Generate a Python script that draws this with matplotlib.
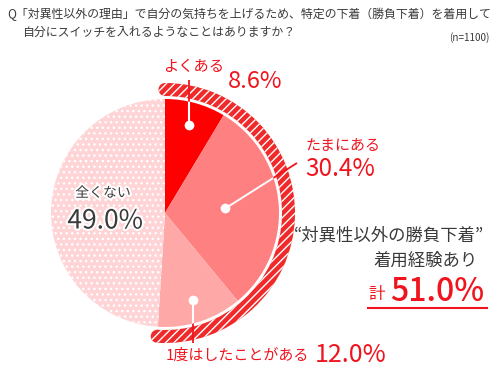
import numpy as np
import matplotlib
matplotlib.use("Agg")
import matplotlib.pyplot as plt
import matplotlib.patheffects as pe
from matplotlib.patches import Wedge, Circle

plt.rcParams['font.family'] = ['Noto Sans CJK JP', 'DejaVu Sans']
plt.rcParams['hatch.linewidth'] = 1.0

# ------------------------------------------------------------------ data
labels = ["よくある", "たまにある", "1度はしたことがある", "全くない"]
shares = [8.6, 30.4, 12.0, 49.0]
total_label = "計"
total_value = "51.0%"
title_1 = "Q「対異性以外の理由」で自分の気持ちを上げるため、特定の下着（勝負下着）を着用して"
title_2 = "自分にスイッチを入れるようなことはありますか？"
sample = "(n=1100)"
note_1 = "“対異性以外の勝負下着”"
note_2 = "着用経験あり"

# ------------------------------------------------------------------ style
RED = "#f0141e"
GRAY = "#3a3a3a"
slice_colors = ["#ff0000", "#ff8080", "#ffa8a8", "#ffd4d6"]

W, H = 500, 379
fig = plt.figure(figsize=(W / 100, H / 100), dpi=100)
ax = fig.add_axes([0, 0, 1, 1])

def Y(y):
    # image row -> axes y
    return H - y

cx, cy, R = 165, Y(213), 114

wedges, _ = ax.pie(shares, colors=slice_colors, startangle=90, counterclock=False,
                   radius=R, center=(cx, cy), wedgeprops=dict(linewidth=0))
wedges[3].set_edgecolor("white")
wedges[3].set_hatch("...")
wedges[3].set_linewidth(0)

ax.set_xlim(0, W)
ax.set_ylim(0, H)
ax.set_aspect("equal")
ax.axis("off")

# hatched ring around the "yes" share
yes = sum(shares[:3])
t_end = 90
t_start = 90 - 360 * yes / 100
r_out, ring_w = 130, 13
r_mid = r_out - ring_w / 2
ring = Wedge((cx, cy), r_out, t_start, t_end, width=ring_w, facecolor="#f02a2a",
             edgecolor="white", hatch="////", linewidth=0)
ax.add_patch(ring)
for t in (t_start, t_end):
    cap = Circle((cx + r_mid * np.cos(np.radians(t)), cy + r_mid * np.sin(np.radians(t))),
                 ring_w / 2, facecolor="#f02a2a", edgecolor="white", hatch="////", linewidth=0)
    ax.add_patch(cap)

pie_clip = Circle((cx, cy), R, transform=ax.transData)

def leader(i, frac, end):
    w = wedges[i]
    mid = np.radians((w.theta1 + w.theta2) / 2)
    px, py = cx + frac * R * np.cos(mid), cy + frac * R * np.sin(mid)
    if end[0] is None:
        ex = px
    else:
        ex = end[0]
    ey = Y(end[1])
    ax.plot([px, ex], [py, ey], color=RED, lw=1.3, solid_capstyle="butt")
    ln, = ax.plot([px, ex], [py, ey], color="white", lw=1.5, solid_capstyle="butt")
    ln.set_clip_path(pie_clip)
    ax.plot(px, py, "o", color="white", ms=7, mew=0)

leader(0, 0.8, (None, 80))
leader(1, 0.53, (297, 163))
leader(2, 0.8, (None, 343))

# ------------------------------------------------------------------ text
ax.text(7, Y(14), title_1, fontsize=8.6, color=GRAY, va="center", ha="left")
ax.text(22, Y(32), title_2, fontsize=8.6, color=GRAY, va="center", ha="left")
ax.text(490, Y(38), sample, fontsize=7.2, color=GRAY, va="center", ha="right")

ax.text(194, Y(67), labels[0], fontsize=11, color=RED, va="center", ha="center")
ax.text(228, Y(82), f"{shares[0]}%", fontsize=17, color=RED, va="center", ha="left")

ax.text(306, Y(146), labels[1], fontsize=10.8, color=RED, va="center", ha="left")
ax.text(305, Y(169), f"{shares[1]}%", fontsize=17.5, color=RED, va="center", ha="left")

ax.text(166, Y(356), labels[2], fontsize=10.8, color=RED, va="center", ha="left")
ax.text(315, Y(355), f"{shares[2]}%", fontsize=18, color=RED, va="center", ha="left")

stroke = [pe.withStroke(linewidth=3, foreground="white")]
ax.text(103, Y(193), labels[3], fontsize=10, color=GRAY, va="center", ha="center",
        path_effects=stroke)
ax.text(105, Y(221), f"{shares[3]}%", fontsize=19, color=GRAY, va="center", ha="center",
        path_effects=stroke)

ax.text(484, Y(236), note_1, fontsize=12.5, color=GRAY, va="center", ha="right")
ax.text(478, Y(261), note_2, fontsize=12.5, color=GRAY, va="center", ha="right")
ax.text(368, Y(295), total_label, fontsize=12, color=RED, va="center", ha="left")
ax.text(390, Y(292), total_value, fontsize=23, color=RED, va="center", ha="left",
        fontweight="medium")
ax.plot([368, 487], [Y(308), Y(308)], color=RED, lw=1.5)

fig.savefig("out.png", dpi=100)
